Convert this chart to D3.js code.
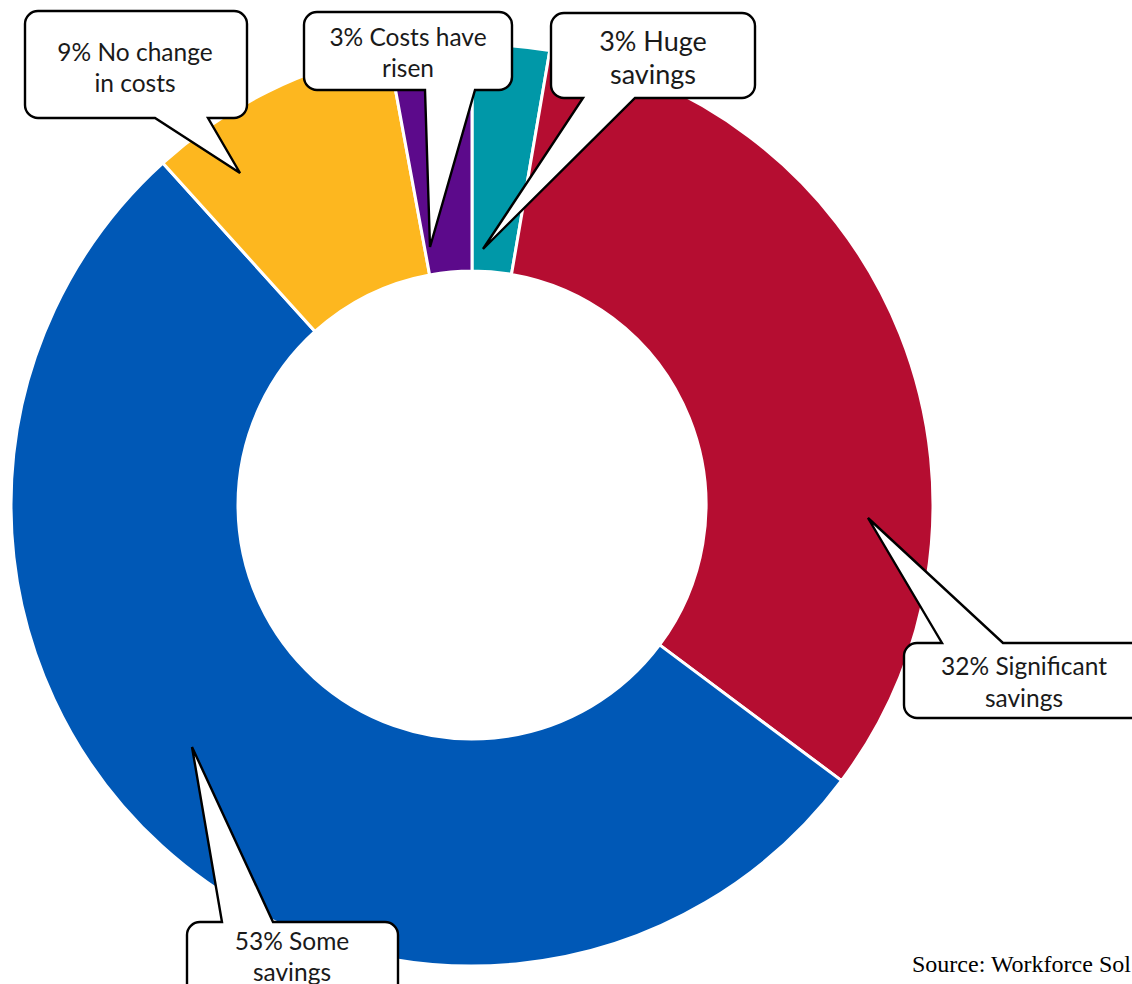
<!DOCTYPE html>
<html><head><meta charset="utf-8">
<script src="https://cdn.jsdelivr.net/npm/d3@7"></script>
<style>
html,body{margin:0;padding:0;background:#fff;overflow:hidden;}
svg{display:block;}
</style></head>
<body>
<svg id="chart" width="1132" height="984"></svg>
<script>
const categories = ["Huge savings", "Significant savings", "Some savings", "No change in costs", "Costs have risen"];
const values = [2.7, 32.5, 53.1, 8.8, 2.9];
const colors = ["#0098A8", "#B50D31", "#0058B6", "#FDB71F", "#5C0A8B"];
const labelLines = [
  ["3% Huge", "savings"],
  ["32% Significant", "savings"],
  ["53% Some", "savings"],
  ["9% No change", "in costs"],
  ["3% Costs have", "risen"]
];
const sourceText = "Source: Workforce Sol";

const svg = d3.select("#chart");
const cx = 472, cy = 505, rOuter = 461, rInner = 234;

const pie = d3.pie().sort(null).value(d => d)(values);
const arc = d3.arc().innerRadius(rInner).outerRadius(rOuter);

svg.append("g").attr("transform", `translate(${cx},${cy})`)
  .selectAll("path").data(pie).join("path")
  .attr("d", arc)
  .attr("fill", (d, i) => colors[i])
  .attr("stroke", "#fff")
  .attr("stroke-width", 3)
  .attr("stroke-linejoin", "round");

// callout layouts (box x0,y0,x1,y1; tail base a,b on an edge; tip)
const callouts = [
  {box:[551,13,755,98], side:"bottom", base:[583,635], tip:[483,249], tx:653, ty:[40,73], fs:27},
  {box:[904,643,1146,718], side:"top", base:[942,1003], tip:[868,518], tx:1024, ty:[665,697], fs:24.5},
  {box:[187,922,398,1000], side:"top", base:[222,273], tip:[192,747], tx:292, ty:[940,971], fs:24.5},
  {box:[25,11,247,118], side:"bottom", base:[155,208], tip:[240,173], tx:135, ty:[51,82], fs:24.5},
  {box:[304,12,512,90], side:"bottom", base:[425,475], tip:[430,247], tx:408, ty:[36,67], fs:24.5}
];

function calloutPath(c) {
  const [x0,y0,x1,y1] = c.box, r = 13;
  const p = d3.path();
  p.moveTo(x0 + r, y0);
  if (c.side === "top") {
    p.lineTo(c.base[0], y0); p.lineTo(c.tip[0], c.tip[1]); p.lineTo(c.base[1], y0);
  }
  p.lineTo(x1 - r, y0);
  p.arcTo(x1, y0, x1, y0 + r, r);
  p.lineTo(x1, y1 - r);
  p.arcTo(x1, y1, x1 - r, y1, r);
  if (c.side === "bottom") {
    p.lineTo(c.base[1], y1); p.lineTo(c.tip[0], c.tip[1]); p.lineTo(c.base[0], y1);
  }
  p.lineTo(x0 + r, y1);
  p.arcTo(x0, y1, x0, y1 - r, r);
  p.lineTo(x0, y0 + r);
  p.arcTo(x0, y0, x0 + r, y0, r);
  p.closePath();
  return p.toString();
}

const cg = svg.append("g").selectAll("g").data(callouts).join("g");
cg.append("path")
  .attr("d", d => calloutPath(d))
  .attr("fill", "#fff")
  .attr("stroke", "#000")
  .attr("stroke-width", 2.4)
  .attr("stroke-linejoin", "miter");
cg.each(function(d, i) {
  const g = d3.select(this);
  labelLines[i].forEach((line, j) => {
    g.append("text")
      .attr("x", d.tx).attr("y", d.ty[j])
      .attr("text-anchor", "middle")
      .attr("dominant-baseline", "central")
      .attr("font-family", "Lato, 'Open Sans', sans-serif")
      .attr("font-size", d.fs)
      .attr("fill", "#1a1a1a")
      .text(line);
  });
});

svg.append("text")
  .attr("x", 912).attr("y", 972)
  .attr("font-family", "'Liberation Serif', 'Times New Roman', serif")
  .attr("font-size", 24)
  .attr("fill", "#000")
  .text(sourceText);
</script>
</body></html>
